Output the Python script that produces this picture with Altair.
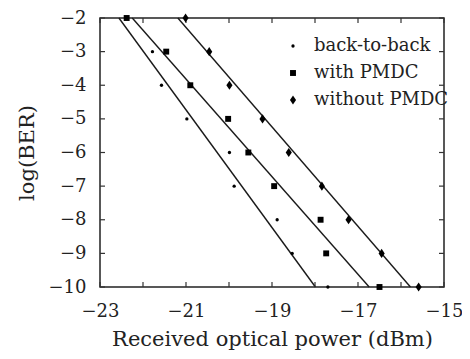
import altair as alt
import pandas as pd

# ---- data ----
series_names = ["back-to-back", "with PMDC", "without PMDC"]

ber_b2b = [-3, -4, -5, -6, -7, -8, -9, -10]
power_b2b = [-21.78, -21.57, -20.98, -19.99, -19.88, -18.88, -18.53, -17.70]

ber_with = [-2, -3, -4, -5, -6, -7, -8, -9, -10]
power_with = [-22.38, -21.46, -20.90, -20.02, -19.55, -18.95, -17.87, -17.74, -16.50]

ber_without = [-2, -3, -4, -5, -6, -7, -8, -9, -10]
power_without = [-21.01, -20.46, -19.99, -19.22, -18.61, -17.84, -17.22, -16.45, -15.59]

# fitted lines: (power at logBER=-2, power at logBER=-10)
fit_top = [-22.56, -22.25, -21.19]
fit_bottom = [-17.99, -16.74, -15.78]
fit_ber = [-2, -10]

x_ticks = [-23, -22, -21, -20, -19, -18, -17, -16, -15]
x_labels = [-23, -21, -19, -17, -15]
y_ticks = [-2, -3, -4, -5, -6, -7, -8, -9, -10]

# ---- tables ----
pts = pd.concat([
    pd.DataFrame({"power": power_b2b, "ber": ber_b2b, "series": series_names[0]}),
    pd.DataFrame({"power": power_with, "ber": ber_with, "series": series_names[1]}),
    pd.DataFrame({"power": power_without, "ber": ber_without, "series": series_names[2]}),
])

line_rows = []
for name, a, b in zip(series_names, fit_top, fit_bottom):
    line_rows.append({"series": name, "power": a, "ber": fit_ber[0]})
    line_rows.append({"series": name, "power": b, "ber": fit_ber[1]})
lines = pd.DataFrame(line_rows)

xt = pd.DataFrame({"t": x_ticks})
yt = pd.DataFrame({"t": y_ticks})

W, H = 344, 269
FONT = "DejaVu Serif"
TL = 5

xscale = alt.Scale(domain=[-23, -15], nice=False)
yscale = alt.Scale(domain=[-10, -2], nice=False)

common = dict(ticks=False, domain=False, grid=False, format="d",
              labelOverlap=False, labelFlush=False,
              labelFont=FONT, labelFontSize=18, labelColor="#222",
              titleFont=FONT, titleFontSize=21, titleColor="#222",
              titleFontWeight="normal")
xaxis = alt.Axis(values=x_labels, title="Received optical power (dBm)",
                 labelPadding=15, titlePadding=8, **common)
yaxis = alt.Axis(values=y_ticks, title="log(BER)", labelPadding=14,
                 titlePadding=11, **common)

diamond = "M0,-1.2L0.8,0L0,1.2L-0.8,0Z"

legend = alt.Legend(title=None, orient="none", legendX=184, legendY=19,
                    labelFont=FONT, labelFontSize=18, labelColor="#222",
                    rowPadding=9, labelOffset=12, symbolStrokeWidth=0,
                    symbolFillColor="black")

points = alt.Chart(pts).mark_point(filled=True, opacity=1, color="black", strokeWidth=0).encode(
    x=alt.X("power:Q", scale=xscale, axis=xaxis),
    y=alt.Y("ber:Q", scale=yscale, axis=yaxis),
    shape=alt.Shape("series:N", scale=alt.Scale(domain=series_names,
                                                range=["circle", "square", diamond]),
                    legend=legend),
    size=alt.Size("series:N", scale=alt.Scale(domain=series_names, range=[11, 59, 77]),
                  legend=legend),
)

fit = alt.Chart(lines).mark_line(color="#1a1a1a", strokeWidth=1.4).encode(
    x=alt.X("power:Q", scale=xscale, axis=xaxis),
    y=alt.Y("ber:Q", scale=yscale, axis=yaxis),
    detail="series:N",
)

tick_style = dict(color="#333", strokeWidth=1.2)
bt = alt.Chart(xt).mark_rule(**tick_style).encode(
    x=alt.X("t:Q", scale=xscale, axis=xaxis), y=alt.value(H), y2=alt.value(H - TL))
tt = alt.Chart(xt).mark_rule(**tick_style).encode(
    x=alt.X("t:Q", scale=xscale, axis=xaxis), y=alt.value(0), y2=alt.value(TL))
lt = alt.Chart(yt).mark_rule(**tick_style).encode(
    y=alt.Y("t:Q", scale=yscale, axis=yaxis), x=alt.value(0), x2=alt.value(TL))
rt = alt.Chart(yt).mark_rule(**tick_style).encode(
    y=alt.Y("t:Q", scale=yscale, axis=yaxis), x=alt.value(W), x2=alt.value(W - TL))

chart = alt.layer(fit, bt, tt, lt, rt, points).properties(
    width=W, height=H,
    autosize=alt.AutoSizeParams(type="none"),
    padding={"left": 92, "top": 10, "right": 18, "bottom": 64},
    background="white",
).configure_view(stroke="#222", strokeWidth=1.5)

chart.save("out.html", embed_options={"renderer": "svg", "actions": False})
